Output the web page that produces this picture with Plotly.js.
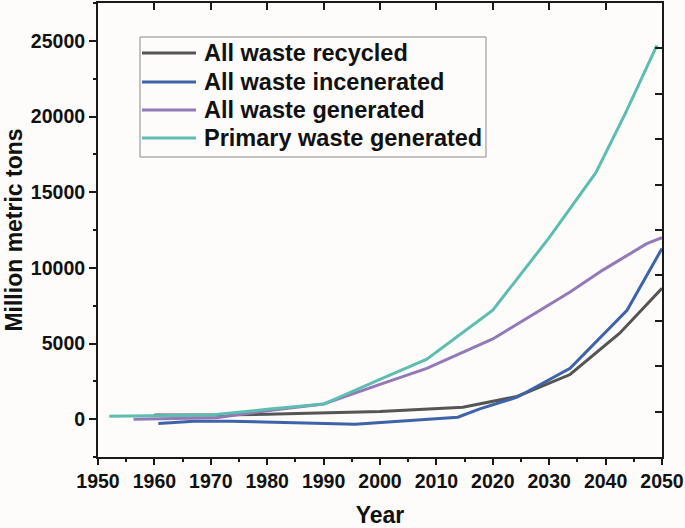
<!DOCTYPE html>
<html>
<head>
<meta charset="utf-8">
<script src="https://cdn.plot.ly/plotly-3.0.1.min.js"></script>
<style>html,body{margin:0;padding:0;background:#fdfcfa;}#chart{width:685px;height:528px;}</style>
</head>
<body>
<div id="chart"></div>
<script>
// Data (million metric tons)
const recycledYears = [1960, 1970, 1980, 1990, 2000, 2014.7, 2020, 2024.3, 2033.7, 2042.5, 2050];
const recycledValues = [270, 270, 320, 390, 500, 790, 1180, 1500, 2950, 5680, 8650];

const incineratedYears = [1960.7, 1967, 1973.4, 1982.3, 1990, 1995.6, 2013.8, 2017.7, 2024.3, 2033.7, 2043.8, 2050];
const incineratedValues = [-280, -130, -130, -200, -260, -330, 130, 680, 1450, 3360, 7190, 11280];

const generatedYears = [1956.3, 1971, 1980, 1990, 2000, 2008.3, 2020, 2033.7, 2039.5, 2047.3, 2050];
const generatedValues = [0, 100, 550, 1000, 2300, 3360, 5300, 8400, 9850, 11600, 12000];

const primaryYears = [1952, 1970, 1980, 1990, 2000, 2008.3, 2020, 2030, 2038.3, 2043.5, 2049.1];
const primaryValues = [200, 280, 650, 1000, 2630, 3960, 7200, 12000, 16300, 20200, 24700];

const seriesNames = ["All waste recycled", "All waste incenerated", "All waste generated", "Primary waste generated"];
const seriesColors = ["#555555", "#3f63a8", "#9479b8", "#5dbdb0"];

const FONT = "Liberation Sans, Arial, sans-serif";

const xs = [recycledYears, incineratedYears, generatedYears, primaryYears];
const ys = [recycledValues, incineratedValues, generatedValues, primaryValues];

const traces = seriesNames.map((n, i) => ({
  type: "scatter", mode: "lines", name: n,
  x: xs[i], y: ys[i],
  line: {color: seriesColors[i], width: 3},
  hoverinfo: "skip", showlegend: false
}));
// helper trace to anchor the mirrored tick axes
traces.push({type: "scatter", mode: "lines", x: [1950], y: [0], xaxis: "x2", yaxis: "y2",
  showlegend: false, hoverinfo: "skip", line: {width: 0}});

const axisLine = "#1a1a1a";
const tickFont = {family: FONT, size: 19.5, color: "#111", weight: "bold"};
const titleFont = {family: FONT, size: 23, color: "#111", weight: "bold"};

// Legend box drawn in plot-area fractions (Origin-style compact legend)
const plotL = 98, plotR = 662, plotT = 3, plotB = 457;
const px = v => (v - plotL) / (plotR - plotL);
const py = v => (plotB - v) / (plotB - plotT);
const legendRows = [53, 82, 110, 138];

const shapes = [{
  type: "rect", xref: "paper", yref: "paper",
  x0: px(140), x1: px(486), y0: py(157), y1: py(37),
  line: {color: "#8a8a8a", width: 1}, fillcolor: "rgba(0,0,0,0)", layer: "below"
}];
const annotations = [];
seriesNames.forEach((n, i) => {
  shapes.push({
    type: "line", xref: "paper", yref: "paper",
    x0: px(142), x1: px(196), y0: py(legendRows[i]), y1: py(legendRows[i]),
    line: {color: seriesColors[i], width: 3}
  });
  annotations.push({
    xref: "paper", yref: "paper", x: px(202), y: py(legendRows[i]),
    xanchor: "left", yanchor: "middle", showarrow: false, text: n,
    font: {family: FONT, size: 23.5, color: "#111", weight: "bold"}
  });
});

const layout = {
  width: 685, height: 528,
  margin: {l: 98, r: 23, t: 3, b: 71},
  paper_bgcolor: "#fdfcfa", plot_bgcolor: "#fdfcfa",
  font: {family: FONT, size: 18, color: "#111", weight: "bold"},
  showlegend: false,
  shapes: shapes,
  annotations: annotations,
  xaxis: {
    range: [1950, 2050], tick0: 1950, dtick: 10,
    showgrid: false, zeroline: false,
    showline: true, linecolor: axisLine, linewidth: 2, mirror: true,
    ticks: "outside", ticklen: 6, tickwidth: 2, tickcolor: axisLine,
    minor: {ticks: "outside", dtick: 5, ticklen: 3, tickwidth: 2, tickcolor: axisLine},
    tickfont: tickFont, tickformat: "d",
    title: {text: "Year", font: titleFont, standoff: 16}
  },
  yaxis: {
    range: [-2500, 27500], tick0: 0, dtick: 5000,
    showgrid: false, zeroline: false,
    showline: true, linecolor: axisLine, linewidth: 2, mirror: true,
    ticks: "outside", ticklen: 7, tickwidth: 2, tickcolor: axisLine,
    minor: {ticks: "outside", dtick: 2500, ticklen: 3, tickwidth: 2, tickcolor: axisLine},
    tickfont: tickFont, tickformat: "d", exponentformat: "none",
    title: {text: "Million metric tons", font: titleFont, standoff: 2}
  },
  xaxis2: {
    overlaying: "x", side: "top", range: [1950, 2050], tick0: 1950, dtick: 10,
    showgrid: false, zeroline: false, showline: false, showticklabels: false,
    ticks: "inside", ticklen: 7, tickwidth: 2, tickcolor: axisLine
  },
  yaxis2: {
    overlaying: "y", side: "right", range: [0, 10], tick0: 0, dtick: 1,
    showgrid: false, zeroline: false, showline: false, showticklabels: false,
    ticks: "inside", ticklen: 7, tickwidth: 2, tickcolor: axisLine
  }
};

Plotly.newPlot("chart", traces, layout, {displayModeBar: false, staticPlot: true});
</script>
</body>
</html>
